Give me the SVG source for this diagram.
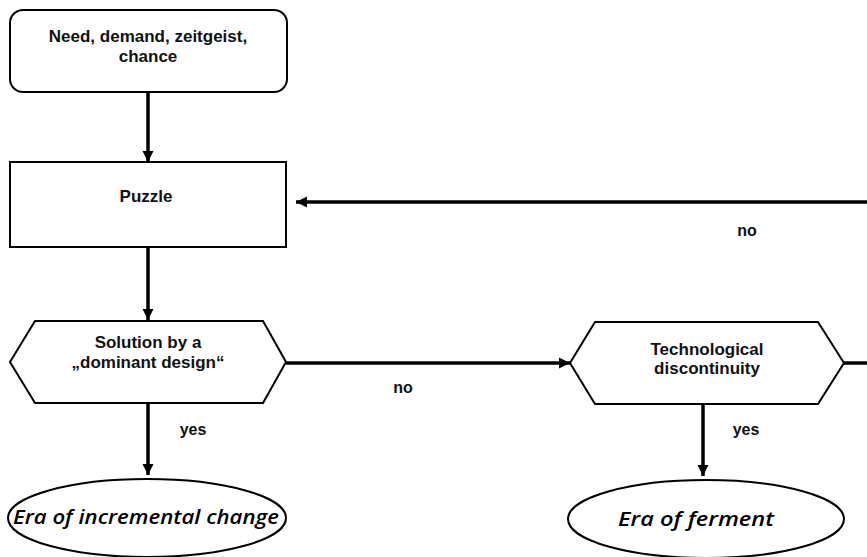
<svg xmlns="http://www.w3.org/2000/svg" width="867" height="557" viewBox="0 0 867 557">
  <defs>
    <marker id="arrow" viewBox="0 0 10 10" refX="10" refY="5" markerWidth="3.2" markerHeight="3.2" markerUnits="strokeWidth" orient="auto">
      <path d="M0,0 L10,5 L0,10 z" fill="#000"/>
    </marker>
    <style>
      .shape { fill: #fff; stroke: #000; stroke-width: 2; }
      .label { font-family: "Liberation Sans", Arial, sans-serif; font-size: 17px; font-weight: bold; fill: #111; text-anchor: middle; }
      .small { font-size: 16px; }
      .era { font-family: "Open Sans", Lato, sans-serif; font-style: italic; font-weight: 600; font-size: 19px; fill: #000; text-anchor: middle; }
      .conn { fill: none; stroke: #000; stroke-width: 3.5; }
    </style>
  </defs>
  <rect width="867" height="557" fill="#fff"/>

  <!-- connectors -->
  <g id="connectors">
    <line class="conn" x1="148" y1="93" x2="148" y2="162" marker-end="url(#arrow)"/>
    <line class="conn" x1="148" y1="247" x2="148" y2="320" marker-end="url(#arrow)"/>
    <line class="conn" x1="286" y1="363" x2="570" y2="363" marker-end="url(#arrow)"/>
    <line class="conn" x1="844" y1="363" x2="867" y2="363"/>
    <line class="conn" x1="867" y1="202" x2="296" y2="202" marker-end="url(#arrow)"/>
    <line class="conn" x1="148" y1="404" x2="148" y2="475" marker-end="url(#arrow)"/>
    <line class="conn" x1="703" y1="404" x2="703" y2="476" marker-end="url(#arrow)"/>
    <text class="label small" x="747" y="236">no</text>
    <text class="label small" x="403" y="393">no</text>
    <text class="label small" x="193" y="435">yes</text>
    <text class="label small" x="746" y="435">yes</text>
  </g>

  <!-- start: need, demand, zeitgeist, chance -->
  <g id="need">
    <rect class="shape" x="10" y="10" width="277" height="82" rx="13" ry="13"/>
    <text class="label" x="148" y="42">Need, demand, zeitgeist,</text>
    <text class="label" x="148" y="62">chance</text>
  </g>

  <g id="puzzle">
    <rect class="shape" x="10" y="162" width="276" height="85"/>
    <text class="label" x="146" y="202">Puzzle</text>
  </g>

  <g id="dominant-design">
    <polygon class="shape" points="35,321 263,321 286,362 263,403 35,403 10,362"/>
    <text class="label" x="148" y="348">Solution by a</text>
    <text class="label" x="148" y="368">„dominant design“</text>
  </g>

  <g id="discontinuity">
    <polygon class="shape" points="595,322 818,322 844,363 818,404 595,404 570,363"/>
    <text class="label" x="707" y="355">Technological</text>
    <text class="label" x="707" y="374">discontinuity</text>
  </g>

  <g id="incremental">
    <ellipse class="shape" cx="147" cy="518" rx="139" ry="39"/>
    <text class="era" x="146" y="524" textLength="266" lengthAdjust="spacingAndGlyphs">Era of incremental change</text>
  </g>

  <g id="ferment">
    <ellipse class="shape" cx="706" cy="519" rx="138" ry="39"/>
    <text class="era" x="696" y="526" textLength="156" lengthAdjust="spacingAndGlyphs">Era of ferment</text>
  </g>
</svg>
